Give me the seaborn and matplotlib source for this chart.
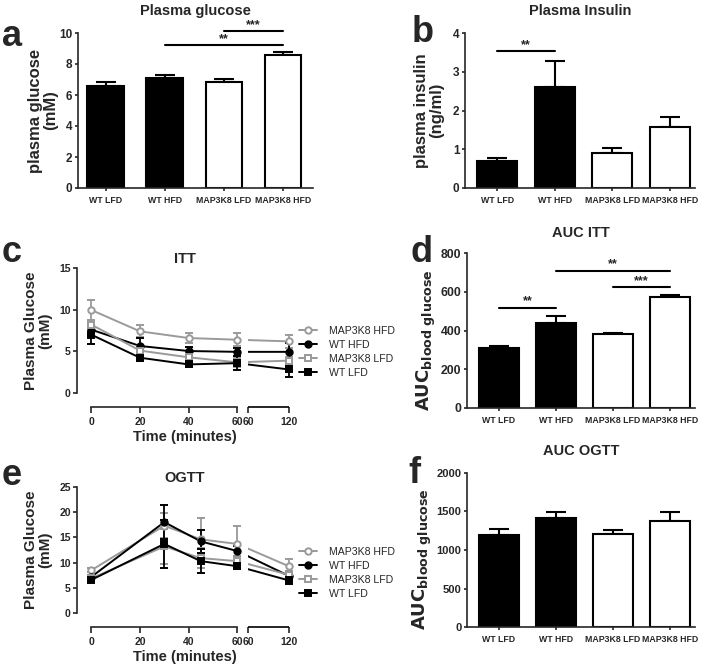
import numpy as np
import pandas as pd
import matplotlib
matplotlib.use("Agg")
import matplotlib.pyplot as plt
from matplotlib.lines import Line2D
from matplotlib.transforms import offset_copy
import seaborn as sns

# ---------------- data ----------------
groups = ["WT LFD", "WT HFD", "MAP3K8 LFD", "MAP3K8 HFD"]

glucose_mean = [6.55, 7.1, 6.85, 8.58]
glucose_sem = [0.30, 0.22, 0.20, 0.18]

insulin_mean = [0.70, 2.60, 0.91, 1.57]
insulin_sem = [0.07, 0.69, 0.11, 0.27]

auc_itt_mean = [308, 440, 382, 571]
auc_itt_sem = [14, 36, 3, 12]

auc_ogtt_mean = [1194, 1410, 1202, 1375]
auc_ogtt_sem = [73, 81, 56, 120]

itt_time = [0, 20, 40, 60, 120]
itt_map_hfd = [9.95, 7.4, 6.6, 6.4, 6.2]
itt_map_hfd_sem = [1.15, 0.7, 0.65, 0.8, 0.8]
itt_wt_hfd = [7.6, 5.65, 5.05, 4.95, 4.95]
itt_wt_hfd_sem = [0.6, 0.9, 0.5, 0.5, 1.0]
itt_map_lfd = [8.2, 5.1, 4.3, 3.7, 3.9]
itt_map_lfd_sem = [0.6, 0.5, 0.5, 0.5, 0.4]
itt_wt_lfd = [7.0, 4.25, 3.45, 3.6, 2.85]
itt_wt_lfd_sem = [1.15, 0.4, 0.35, 0.85, 0.9]

ogtt_time = [0, 30, 45, 60, 120]
ogtt_map_hfd = [8.5, 17.3, 14.6, 13.7, 9.3]
ogtt_map_hfd_sem = [0.4, 2.5, 4.3, 3.6, 1.4]
ogtt_wt_hfd = [7.2, 18.0, 14.2, 12.3, 7.4]
ogtt_wt_hfd_sem = [0.4, 3.4, 2.3, 1.0, 1.0]
ogtt_map_lfd = [6.9, 13.2, 10.9, 10.3, 7.6]
ogtt_map_lfd_sem = [0.5, 3.4, 1.9, 1.0, 0.8]
ogtt_wt_lfd = [6.6, 13.7, 10.3, 9.3, 6.5]
ogtt_wt_lfd_sem = [0.5, 4.7, 2.4, 0.6, 0.8]

time_ticks = [0, 20, 40, 60, 60.0001, 120]
time_tick_labels = ["0", "20", "40", "60", "60", "120"]

# significance brackets: (from index, to index, height, label)
sig_a = [(1, 3, 9.2, "**"), (2, 3, 10.1, "***")]
sig_b = [(0, 1, 3.54, "**")]
sig_d = [(0, 1, 518, "**"), (1, 3, 709, "**"), (2, 3, 626, "***")]

# ---------------- style ----------------
sns.set_style("ticks")
plt.rcParams["font.family"] = ["Liberation Sans", "DejaVu Sans"]
plt.rcParams["font.weight"] = "bold"
plt.rcParams["axes.labelweight"] = "bold"
plt.rcParams["axes.titleweight"] = "bold"
plt.rcParams["axes.linewidth"] = 1.2
plt.rcParams["mathtext.default"] = "bf"

GREY = "#9a9a9a"
W, H = 704, 668
fig = plt.figure(figsize=(W / 100, H / 100), dpi=100)


def add_ax(l, r, t, b):
    return fig.add_axes([l / W, 1 - b / H, (r - l) / W, (b - t) / H])


def bar_panel(ax, means, sems, ylim, yticks, ytfs, xlim, width, title, tpad,
              ylabel, ylfs, label_xy, sigs, sigfs=9):
    df = pd.DataFrame({"group": groups, "value": means})
    sns.barplot(data=df, x="group", y="value", hue="group",
                palette=["black", "black", "white", "white"],
                edgecolor="black", linewidth=1.5, width=width,
                errorbar=None, legend=False, ax=ax, zorder=2)
    ax.errorbar(np.arange(len(groups)), means,
                yerr=[np.zeros(len(sems)), sems], fmt="none",
                ecolor="black", elinewidth=1.5, capsize=7, capthick=1.5,
                zorder=1)
    ax.set_ylim(*ylim)
    ax.set_xlim(*xlim)
    ax.set_yticks(yticks)
    ax.tick_params(axis="y", labelsize=ytfs, length=2.5, width=1.2, pad=1.5)
    ax.tick_params(axis="x", labelsize=6.3, length=2.5, width=1.2, pad=3)
    ax.set_xlabel("")
    ax.set_ylabel(ylabel, fontsize=ylfs, linespacing=1.0)
    ax.yaxis.set_label_coords(*label_xy)
    ax.set_title(title, fontsize=10.5, pad=tpad)
    sns.despine(ax=ax)
    for i, j, y, lab in sigs:
        ax.plot([i, j], [y, y], color="black", lw=1.5, clip_on=False)
        ax.text((i + j) / 2, y, lab, ha="center", va="bottom",
                fontsize=sigfs, fontweight="bold")


# ---- panel a
ax_a = add_ax(78, 313, 33, 188)
bar_panel(ax_a, glucose_mean, glucose_sem, (0, 10), [0, 2, 4, 6, 8, 10], 8.5,
          (-0.47, 3.51), 0.62, "Plasma glucose", 13,
          "plasma glucose\n(mM)", 12, (-0.085, 0.5), sig_a)

# ---- panel b
ax_b = add_ax(465, 695, 33, 188)
bar_panel(ax_b, insulin_mean, insulin_sem, (0, 4), [0, 1, 2, 3, 4], 8.5,
          (-0.56, 3.44), 0.7, "Plasma Insulin", 13,
          "plasma insulin\n(ng/ml)", 12, (-0.09, 0.5), sig_b)

# ---- panel d
ax_d = add_ax(467, 695, 253, 408)
bar_panel(ax_d, auc_itt_mean, auc_itt_sem, (0, 800), [0, 200, 400, 600, 800], 8.8,
          (-0.56, 3.44), 0.7, "AUC ITT", 11.5,
          r"$\mathbf{AUC}_{\mathbf{blood\ glucose}}$", 13, (-0.125, 0.44), sig_d)

# ---- panel f
ax_f = add_ax(467, 695, 472.7, 627.3)
bar_panel(ax_f, auc_ogtt_mean, auc_ogtt_sem, (0, 2000), [0, 500, 1000, 1500, 2000], 8,
          (-0.56, 3.44), 0.7, "AUC OGTT", 12.7,
          r"$\mathbf{AUC}_{\mathbf{blood\ glucose}}$", 13, (-0.145, 0.44), [])


# ---------------- line panels with broken time axis ----------------
GAP_START = 64.5
K = 0.2783


def fwd(t):
    t = np.asarray(t, dtype=float)
    return np.where(t <= 60, t, GAP_START + (t - 60) * K)


def inv(u):
    u = np.asarray(u, dtype=float)
    return np.where(u <= 60, u, np.where(u < GAP_START, 60, 60 + (u - GAP_START) / K))


def line_panel(ax, time, series, ylim, yticks, title, legend_top):
    styles = [
        ("MAP3K8 HFD", GREY, "o", "white"),
        ("WT HFD", "black", "o", "black"),
        ("MAP3K8 LFD", GREY, "s", "white"),
        ("WT LFD", "black", "s", "black"),
    ]
    handles = []
    for (name, col, mk, face), (vals, sems) in zip(styles, series):
        df = pd.DataFrame({"time": time, "glucose": vals})
        sns.lineplot(data=df, x="time", y="glucose", color=col, lw=1.4,
                     errorbar=None, ax=ax, zorder=2)
        ax.errorbar(time, vals, yerr=sems, fmt=mk, color=col, mfc=face,
                    mec=col, mew=1.4, ms=4.6, elinewidth=1.3, capsize=3,
                    capthick=1.3, zorder=3)
        handles.append(Line2D([], [], color=col, marker=mk, mfc=face, mec=col,
                              mew=1.4, ms=4.6, lw=1.4, label=name))
    ax.set_xscale("function", functions=(fwd, inv))
    ax.axvspan(60, 60.0001, color="white", lw=0, zorder=2.5)
    ax.set_xlim(-5.9, 126)
    ax.set_ylim(*ylim)
    ax.set_yticks(yticks)
    ax.set_xticks(time_ticks)
    ax.set_xticklabels(time_tick_labels)
    ax.tick_params(axis="both", labelsize=7.5, length=3, width=1.2, pad=1.5)
    ax.tick_params(axis="x", length=4, pad=3)
    sns.despine(ax=ax)
    ax.spines["bottom"].set_position(("outward", 10.1))
    ax.spines["bottom"].set_bounds(0, 60)
    seg_trans = offset_copy(ax.get_xaxis_transform(), fig=fig, y=-10.1, units="points")
    ax.plot([60.0001, 120], [0, 0], color="black", lw=1.2, transform=seg_trans,
            clip_on=False, solid_capstyle="butt")
    ax.set_xlabel("Time (minutes)", fontsize=10.5, labelpad=2)
    ax.set_ylabel("Plasma Glucose\n(mM)", fontsize=11, labelpad=5, linespacing=1.0)
    ax.set_title(title, fontsize=10.5, pad=3.6)
    fig.legend(handles=handles, loc="upper left",
               bbox_to_anchor=(299 / W, 1 - legend_top / H),
               frameon=False, borderpad=0, borderaxespad=0,
               handlelength=1.75, handletextpad=1.1, labelspacing=0.38,
               prop={"size": 7.6, "weight": "normal"})


ax_c = add_ax(77, 292.8, 267.7, 393.3)
line_panel(ax_c, itt_time,
           [(itt_map_hfd, itt_map_hfd_sem), (itt_wt_hfd, itt_wt_hfd_sem),
            (itt_map_lfd, itt_map_lfd_sem), (itt_wt_lfd, itt_wt_lfd_sem)],
           (0, 15), [0, 5, 10, 15], "ITT", 326)

ax_e = add_ax(77, 292.8, 486.7, 613.3)
line_panel(ax_e, ogtt_time,
           [(ogtt_map_hfd, ogtt_map_hfd_sem), (ogtt_wt_hfd, ogtt_wt_hfd_sem),
            (ogtt_map_lfd, ogtt_map_lfd_sem), (ogtt_wt_lfd, ogtt_wt_lfd_sem)],
           (0, 25), [0, 5, 10, 15, 20, 25], "OGTT", 547)

# ---------------- panel letters ----------------
for lab, x, y in [("a", 2, 46), ("b", 412, 42), ("c", 2, 262),
                  ("d", 410, 262), ("e", 2, 485), ("f", 408, 483)]:
    fig.text(x / W, 1 - y / H, lab, fontsize=26, fontweight="bold",
             ha="left", va="baseline")

fig.savefig("out.png", dpi=100)
